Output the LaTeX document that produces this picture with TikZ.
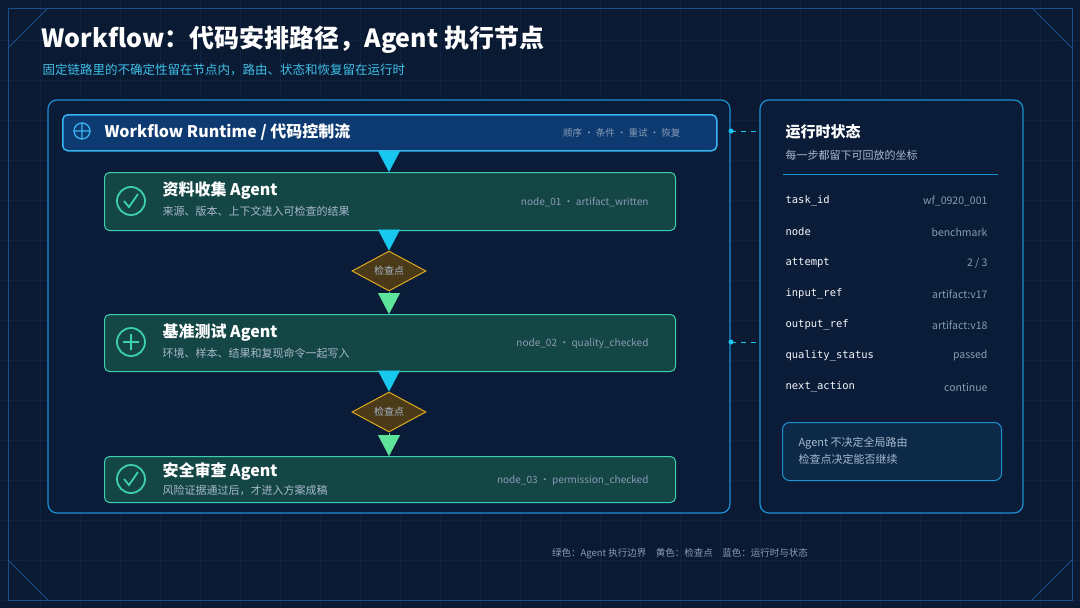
\documentclass[tikz,border=0pt]{standalone}
\usepackage{fontspec}
\setmainfont{Noto Sans CJK SC}
\newfontfamily\monofont{DejaVu Sans Mono}
\usetikzlibrary{shapes.geometric}
\usetikzlibrary{arrows.meta}
\usetikzlibrary{positioning}
\definecolor{bgc}{HTML}{0A1A33}
\definecolor{gridc}{HTML}{0E2243}
\definecolor{framec}{HTML}{1A4E86}
\definecolor{panelc}{HTML}{0A1C38}
\definecolor{edgec}{HTML}{1E8FD0}
\definecolor{barc}{HTML}{0E3A72}
\definecolor{barline}{HTML}{36B4F0}
\definecolor{agentc}{HTML}{144646}
\definecolor{agentline}{HTML}{3CD0B0}
\definecolor{flowc}{HTML}{18C8EE}
\definecolor{passc}{HTML}{5EE39A}
\definecolor{chkc}{HTML}{4A3A18}
\definecolor{chkline}{HTML}{E0A820}
\definecolor{subc}{HTML}{A8B8CC}
\definecolor{dimc}{HTML}{8A9CB4}
\definecolor{titlec}{HTML}{3FC0E8}
\definecolor{notec}{HTML}{0C2A48}

\begin{document}
\begin{tikzpicture}[x=1pt,y=-1pt]
	\tikzset{panel/.style = {draw=edgec, line width=1.2pt, fill=panelc, rounded corners=9pt}}
	\tikzset{agent/.style = {draw=agentline, line width=1pt, fill=agentc, rounded corners=5pt,
			minimum width=571pt, anchor=north west, inner sep=0pt}}
	\tikzset{check/.style = {shape=diamond, draw=chkline, line width=1pt, fill=chkc,
			minimum width=74pt, minimum height=40pt, inner sep=0pt, text=subc, font=\fontsize{10}{12}\selectfont}}
	\tikzset{flow/.style = {-{Triangle[length=21pt,width=22pt]}, flowc, line width=0.1pt}}
	\tikzset{pass/.style = {-{Triangle[length=21pt,width=22pt]}, passc, line width=0.1pt}}
	\tikzset{ttl/.style = {anchor=west, text=white, font=\bfseries\fontsize{16}{18}\selectfont}}
	\tikzset{sub/.style = {anchor=west, text=subc, font=\fontsize{11}{13}\selectfont}}
	\tikzset{tag/.style = {anchor=east, text=dimc, font=\fontsize{10}{12}\selectfont}}
	\tikzset{key/.style = {anchor=west, text=white!90!subc, font=\monofont\fontsize{10.5}{12}\selectfont}}
	\tikzset{val/.style = {anchor=east, text=dimc, font=\fontsize{10.5}{12}\selectfont}}
	\tikzset{link/.style = {flowc, dashed, dash pattern=on 5pt off 5pt, line width=1pt}}

	% background
	\fill[bgc] (0,0) rectangle (1080,608);
	\useasboundingbox (0,0) rectangle (1080,608);
	\foreach \x in {40,80,...,1040} \draw[gridc, line width=0.4pt] (\x,0) -- (\x,608);
	\foreach \y in {40,80,...,600} \draw[gridc, line width=0.4pt] (0,\y) -- (1080,\y);
	\draw[framec, line width=0.8pt] (8,8) rectangle (1072,600);
	\draw[framec, line width=0.8pt] (8,48) -- (48,8);
	\draw[framec, line width=0.8pt] (1032,8) -- (1072,48);
	\draw[framec, line width=0.8pt] (8,560) -- (48,600);
	\draw[framec, line width=0.8pt] (1032,600) -- (1072,560);

	% title
	\node[anchor=west, text=white, font=\bfseries\fontsize{25}{28}\selectfont] (title) at (38,40)
		{Workflow：代码安排路径，Agent 执行节点};
	\node[anchor=west, text=titlec, font=\fontsize{12.5}{14}\selectfont] (subtitle) at (39,70)
		{固定链路里的不确定性留在节点内，路由、状态和恢复留在运行时};

	% panels
	\draw[panel] (48,100) rectangle (730,513);
	\draw[panel] (760,100) rectangle (1023,513);

	% runtime bar
	\node[draw=barline, line width=1.5pt, fill=barc, rounded corners=5pt, minimum width=654pt,
		minimum height=36pt, anchor=north west, inner sep=0pt] (rt) at (62,114) {};
	\draw[barline, line width=1.3pt] (82,131) circle (8pt) (74,131) -- (90,131) (82,123) -- (82,139);
	\node[ttl] (rttext) at (101,132) {Workflow Runtime / 代码控制流};
	\node[tag, font=\fontsize{9.5}{11}\selectfont] (rttag) at (684,133) {顺序 · 条件 · 重试 · 恢复};

	% agents
	\node[agent, minimum height=58pt] (a1) at (104,172) {};
	\node[agent, minimum height=57pt] (a2) at (104,314) {};
	\node[agent, minimum height=46pt] (a3) at (104,456) {};
	\draw[agentline, line width=1.8pt] (131,201) circle (14pt);
	\draw[agentline, line width=1.8pt] (124,201) -- (129,207) -- (138,194);
	\draw[agentline, line width=1.8pt] (131,342) circle (14pt) (123,342) -- (139,342) (131,334) -- (131,350);
	\draw[agentline, line width=1.8pt] (131,479) circle (14pt);
	\draw[agentline, line width=1.8pt] (124,479) -- (129,485) -- (138,472);
	\node[ttl] (a1t) at (159,191) {资料收集 Agent};
	\node[sub] (a1s) at (159,211) {来源、版本、上下文进入可检查的结果};
	\node[tag] (a1g) at (652,202) {node\_01 · artifact\_written};
	\node[ttl] (a2t) at (159,333) {基准测试 Agent};
	\node[sub] (a2s) at (159,353) {环境、样本、结果和复现命令一起写入};
	\node[tag] (a2g) at (652,344) {node\_02 · quality\_checked};
	\node[ttl] (a3t) at (159,471) {安全审查 Agent};
	\node[sub] (a3s) at (159,490) {风险证据通过后，才进入方案成稿};
	\node[tag] (a3g) at (652,481) {node\_03 · permission\_checked};

	% checkpoints
	\node[check] (c1) at (389,271) {检查点};
	\node[check] (c2) at (389,412) {检查点};

	% flow
	\draw[flow] (rt.south -| c1) -- (a1.north -| c1);
	\draw[flow] (a1.south -| c1) -- (c1.north);
	\draw[pass] (c1.south) -- (a2.north -| c1);
	\draw[flow] (a2.south -| c1) -- (c2.north);
	\draw[pass] (c2.south) -- (a3.north -| c1);

	% state panel
	\node[anchor=west, text=white, font=\bfseries\fontsize{15}{17}\selectfont] (st) at (782,132) {运行时状态};
	\node[anchor=west, text=subc, font=\fontsize{11}{13}\selectfont] (sts) at (782,155) {每一步都留下可回放的坐标};
	\draw[edgec, line width=1pt] (783,174) -- (998,174);
	\foreach \k/\v [count=\i from 0] in {task\_id/wf\_0920\_001, node/benchmark, attempt/{2 / 3},
			input\_ref/artifact:v17, output\_ref/artifact:v18, quality\_status/passed, next\_action/continue} {
		\node[key] (k\i) at (782,201+31*\i) {\k};
		\node[val] (v\i) at (991,201+31*\i) {\v};
	}
	\node[draw=edgec, line width=1pt, fill=notec, rounded corners=7pt, minimum width=219pt,
		minimum height=58pt, anchor=north west, inner sep=0pt] (note) at (782,422) {};
	\node[anchor=west, text=subc, font=\fontsize{11}{13}\selectfont, align=left] (notet) at (795,451)
		{Agent 不决定全局路由\\[4pt]检查点决定能否继续};

	% links
	\coordinate (d1) at (731,131);
	\coordinate (d2) at (731,342);
	\coordinate (p1) at (760,131);
	\coordinate (p2) at (760,342);
	\fill[flowc] (d1) circle (2.5pt) (d2) circle (2.5pt);
	\draw[link] (d1) -- (p1);
	\draw[link] (d2) -- (p2);

	% legend
	\node[text=dimc, font=\fontsize{9.5}{11}\selectfont] (legend) at (680,554)
		{绿色：Agent 执行边界\quad 黄色：检查点\quad 蓝色：运行时与状态};
\end{tikzpicture}
\end{document}
